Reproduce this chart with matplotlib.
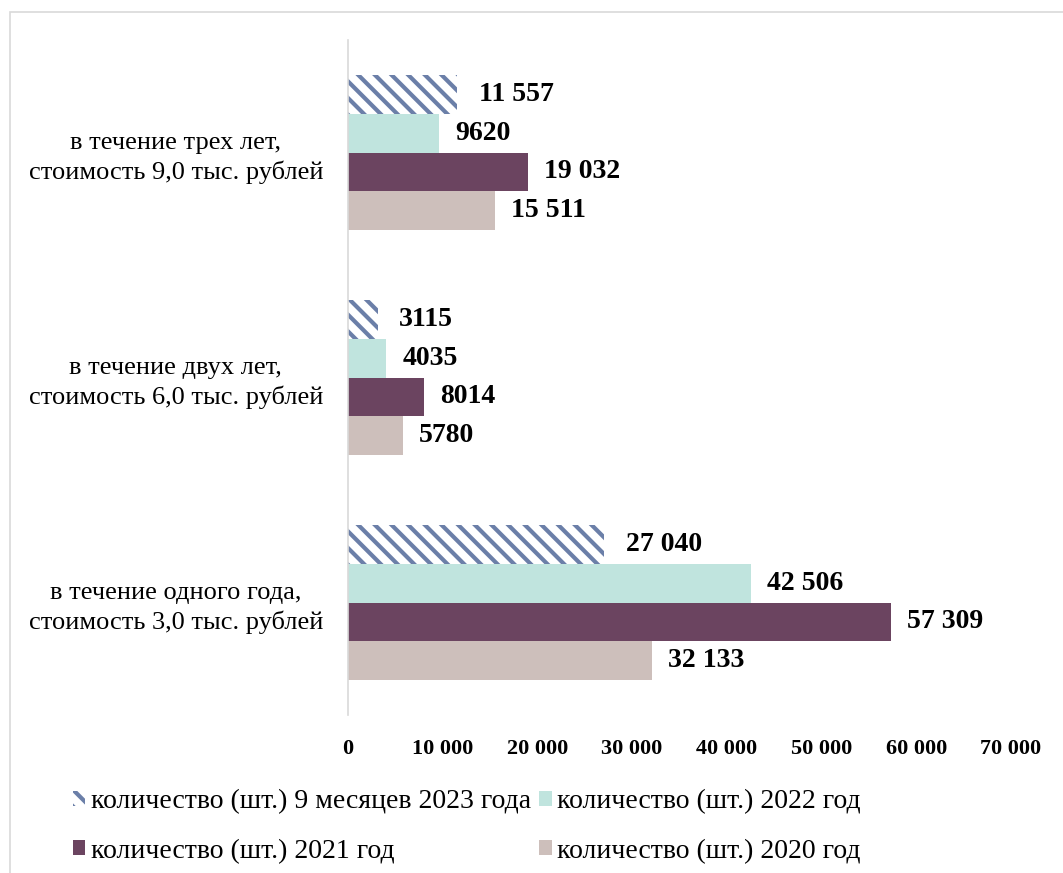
import numpy as np
import matplotlib
matplotlib.use("Agg")
import matplotlib.pyplot as plt
from matplotlib.patches import Rectangle, Patch
from matplotlib.ticker import FuncFormatter

categories = ["в течение одного года,\nстоимость 3,0 тыс. рублей",
              "в течение двух лет,\nстоимость 6,0 тыс. рублей",
              "в течение трех лет,\nстоимость 9,0 тыс. рублей"]
series_names = ["количество (шт.) 9 месяцев 2023 года",
                "количество (шт.) 2022 год",
                "количество (шт.) 2021 год",
                "количество (шт.) 2020 год"]
v2023 = [27040, 3115, 11557]
v2022 = [42506, 4035, 9620]
v2021 = [57309, 8014, 19032]
v2020 = [32133, 5780, 15511]
colors = ["#6b7fa8", "#c0e4de", "#6b4460", "#cdbfbb"]

plt.rcParams["font.family"] = ["Liberation Serif", "DejaVu Serif"]
plt.rcParams["hatch.linewidth"] = 3.0


def fmt(v):
    # Excel style: thousands separator only from 10 000 up
    return f"{v:,}".replace(",", " ") if v >= 10000 else str(v)


fig = plt.figure(figsize=(10.63, 8.73), dpi=100)
ax = fig.add_axes([0.3274, 0.181, 0.6236, 0.773])
fig.patches.append(Rectangle((10 / 1063, -0.01), 1.1, (873 - 12) / 873 + 0.01,
                             transform=fig.transFigure, fill=False,
                             ec="#d9d9d9", lw=1.2))

y = np.arange(len(categories))
h = 0.172
offsets = [1.5 * h, 0.5 * h, -0.5 * h, -1.5 * h]
handles = []
for i, vals in enumerate([v2023, v2022, v2021, v2020]):
    if i == 0:
        bars = ax.barh(y + offsets[i], vals, height=h, color="white",
                       edgecolor=colors[0], hatch="\\\\", lw=0)
        handles.append(Patch(facecolor="white", edgecolor=colors[0], hatch="\\\\", lw=0))
    else:
        bars = ax.barh(y + offsets[i], vals, height=h, color=colors[i], lw=0)
        handles.append(Patch(facecolor=colors[i], lw=0))
    gap = 2300 if i == 0 else 1700
    for b, v in zip(bars, vals):
        ax.text(b.get_width() + gap, b.get_y() + h / 2, fmt(v), va="center",
                ha="left", fontsize=20, fontweight="bold")

ax.set_xlim(0, 70000)
ax.set_ylim(-0.5, 2.5)
ax.set_xticks(np.arange(0, 70001, 10000))
ax.xaxis.set_major_formatter(FuncFormatter(lambda x, p: f"{int(x):,}".replace(",", " ")))
ax.set_yticks(y)
ax.set_yticklabels(categories, fontsize=19, multialignment="center", linespacing=1.35)
ax.tick_params(length=0)
ax.tick_params(axis="x", labelsize=16, pad=17)
ax.tick_params(axis="y", pad=18)
for lab in ax.get_xticklabels():
    lab.set_fontweight("bold")
for s in ["top", "right", "bottom"]:
    ax.spines[s].set_visible(False)
ax.spines["left"].set_color("#d9d9d9")
ax.spines["left"].set_linewidth(1.2)

order = [0, 2, 1, 3]
fig.legend([handles[k] for k in order], [series_names[k] for k in order],
           ncol=2, loc="lower left", bbox_to_anchor=(0.045, -0.018), frameon=False,
           fontsize=20, handlelength=0.45, handleheight=0.45, handletextpad=0.2,
           columnspacing=0.3, labelspacing=0.88)

fig.savefig("out.png", dpi=100)
